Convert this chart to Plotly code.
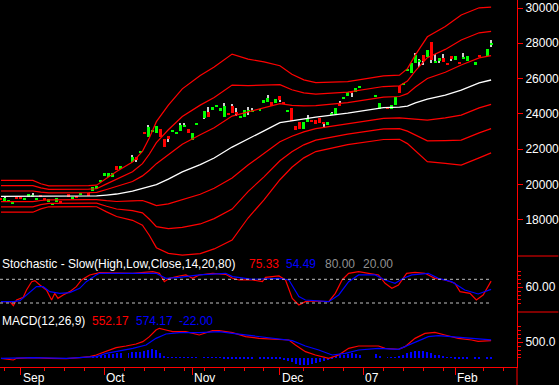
import plotly.graph_objects as go

# ---------------- data ----------------
# trading-day index (weekdays, Aug 25 2006 = 0 ... Feb 14 2007 = 123)
cndl_idx = [0,1,2,3,4,5,6,7,8,9,10,11,12,13,14,15,17,18,19,20,22,23,24,25,26,27,28,29,30,
            33,34,35,36,37,38,39,40,41,42,43,44,45,46,47,48,49,51,52,53,54,55,56,57,58,59,
            60,61,62,63,65,66,67,68,69,70,71,72,73,74,75,76,77,78,79,80,81,82,83,84,85,86,
            87,88,89,90,94,95,97,98,99,100,101,102,103,104,105,106,107,108,109,110,111,112,
            113,114,115,116,117,119,120,122,123]
cndl_open = [19250,19080,19060,18890,19300,19300,19120,19310,19310,19120,19400,19250,19030,18840,
             19030,19080,19460,19160,19350,19460,19500,19650,19760,20160,20480,20410,20440,21050,
             20890,21290,21540,21810,22970,22670,22970,22930,23130,22560,22750,22990,22860,23050,
             23240,23140,22520,23400,23750,24120,24220,24370,24180,23810,24070,24450,24120,23750,
             23840,24160,24120,24180,24630,24690,24690,24630,25010,24690,24120,24320,23310,23520,
             23160,23520,23650,23650,23750,23560,23370,23920,23990,24600,24850,25010,25310,25260,
             25490,24990,24260,24410,24260,24500,25580,25690,26470,26300,26870,26990,27340,27240,
             28060,26900,27050,27150,26870,27280,27050,26960,27150,27010,26770,27300,27280,27920]
cndl_close = [19120,19220,19120,19030,19180,19180,19250,19460,19400,19250,19270,19120,19180,18970,
              19220,18990,19270,19310,19230,19540,19400,19880,19910,20260,20630,20630,20670,20820,
              21050,21540,21390,21870,22900,23270,23090,23310,22710,22110,22560,23050,22990,23370,
              23370,22930,22930,23460,24160,23840,24370,24500,24320,24450,23940,24070,23990,23880,
              24220,24170,24220,24260,24790,24880,24460,24830,24790,24600,24180,23610,23090,23130,
              23560,23750,23560,23410,23500,23430,23560,24070,24350,24450,24910,25260,25200,25450,
              25540,25040,24630,24260,24500,24970,25200,25770,26520,26870,27340,27000,27010,27620,
              27050,26960,27150,26960,26770,27130,27280,26870,27160,27280,26960,27250,27660,27980]
cndl_high = [19250,19310,19120,19030,19300,19300,19250,19460,19520,19250,19400,19250,19180,18970,
             19220,19080,19460,19310,19350,19540,19500,19880,19910,20260,20630,20630,20670,21050,
             21050,21670,21540,21870,22970,23370,23090,23310,23130,22560,22750,23050,22990,23500,
             23500,23140,22930,23460,24160,24370,24370,24500,24320,24600,24070,24560,24330,23880,
             24220,24390,24330,24260,24790,25070,24690,24830,25010,24690,24180,24320,23310,23520,
             23560,23940,23650,23650,23750,23560,23560,24120,24350,24730,24910,25260,25310,25450,
             25540,25040,24630,24410,24500,24970,25580,25770,26520,26870,27430,27110,27340,27620,
             28060,27390,27150,27390,26870,27280,27280,26960,27450,27280,26960,27300,27660,28190]
cndl_low = [19120,19080,19060,18890,19180,19180,19120,19310,19310,19120,19270,19120,19030,18840,
            19030,18990,19270,19160,19230,19460,19400,19650,19760,20160,20480,20410,20440,20820,
            20890,21290,21290,21810,22900,22670,22970,22930,22710,22110,22420,22990,22860,23050,
            23240,22930,22520,23400,23690,23840,24220,24370,24180,23810,23940,24070,23880,23750,
            23840,23940,24120,24180,24630,24690,24460,24630,24690,24600,24120,23610,23090,23130,
            23160,23520,23560,23410,23500,23180,23370,23920,23990,24450,24850,25010,24970,25260,
            25490,24990,24260,24260,24260,24500,25200,25690,26470,26300,26870,26660,26770,27240,
            26870,26870,26870,26960,26770,26980,27050,26870,27150,27010,26770,27250,27280,27810]

# moving average (white) and band width (one sigma)
band_idx = [0,8,10,12,22,24,26.5,29,33,35.5,37.25,39,42,45.5,50,53.5,58,62,66,70,73,76,79,87,96,
            100,102,104,107,111.5,115.5,120,123]
ma_vals = [19330,19330,19330,19330,19340,19350,19400,19460,19620,19790,19880,19990,20300,20710,
           21130,21500,22120,22600,23040,23500,23610,23720,23820,24040,24350,24380,24440,24620,
           24830,25070,25350,25760,25920]
sigma_vals = [300,300,238,198,198,204,317,425,550,697,924,1190,1400,1570,1683,1717,1756,1500,1303,
              1077,878,737,652,595,600,606,708,907,1179,1292,1417,1417,1377]

# stochastic slow
stk_idx = [0,2.25,3.1,3.9,5.6,6.4,7.7,8.5,9.75,11.4,12.7,13.5,14.3,15.6,17.25,18.9,20.2,22.25,24.75,
           28.9,33.1,38.1,39.75,41,42.25,44.75,46.4,48.1,49.75,53.1,56.4,58.1,59.75,63.1,65.6,66.4,
           69.75,71.4,73.1,74.75,76.4,78.1,82.25,83.9,85.6,87.25,89.75,92.25,94.75,96.4,98.1,99.75,
           101.8,103.9,106.4,108.9,111.4,113.9,115.2,117.7,119.3,121,123]
stk_k = [23.4,23.4,13.2,27.6,34.4,53,74,76.6,65.6,53,27.6,44.5,31.8,40.3,48.7,61.4,78.3,91,96.9,
         96.9,95.2,99.4,95.2,74,82.5,88.4,91,82.5,91,95.2,92.7,82.5,78.3,78.3,74,85,88.4,78.3,31.8,
         14.9,23.4,25.1,23.4,44.5,78.3,95.2,99.4,95.2,91,69.9,57.2,65.6,95.2,97.7,95.2,82.5,78.3,
         69.9,48.7,44.5,27.6,40.3,75.33]
std_idx = [0,3.1,4.75,6.4,8.9,10.6,12.25,14.75,17.25,19.75,21.4,23.9,24.75,38.9,41.4,44.75,49.75,
           56.4,58.1,63.1,69.75,72.25,74.75,76.4,78.9,82.25,84.75,87.25,89.75,93.9,96.4,98.9,101,
           103.1,107.25,109.75,113.1,116.4,119.75,123]
std_d = [23.4,23.4,25.9,40.3,61.4,61.4,48.7,44.5,46.2,57.2,74,91,95.2,95.2,82.5,85,91,95.2,86.8,80,
         82.5,78.3,36.1,27.6,25.1,23.4,40.3,74,91,91,78.3,69.9,82.5,91,95.2,82.5,74,53,42.8,54.49]

# MACD
macd_idx = [0,2.25,3.1,3.9,8.1,12.25,16.4,19.75,22.25,23.9,26.4,28.9,31.4,33.9,35.6,37.25,38.9,
            39.75,41.4,43.1,46.4,49.75,53.1,54.75,58.1,61.4,64.75,69.75,72.25,73.9,76.4,78.9,82.25,
            84.75,87.25,89.75,94.75,96.4,99.75,101.4,103.9,106.4,108.9,111.4,114.75,118.1,119.75,123]
macd_vals = [-10,-32,-64,-10,11,-10,-21,11,42,96,223,329,382,446,520,679,892,945,892,839,839,733,
             871,871,807,679,626,594,573,414,202,96,-10,96,308,382,382,308,276,361,626,785,817,733,
             626,573,530,552.17]
sig_idx = [0,8.1,16.4,21.4,23.9,26.4,29.75,33.1,36.4,38.9,41.4,44.75,49.75,54.75,58.1,61.4,66.4,
           69.75,73.1,76.4,79.75,83.1,86.4,89.75,94.75,99.75,103.1,107.25,109.75,114.75,119.75,123]
sig_vals = [-10,11,-10,11,42,149,223,308,414,626,764,807,807,839,785,733,658,610,552,382,255,96,149,
            255,308,276,467,679,711,658,594,574.17]
hist_idx = [23,24,25,26,27,28,29,30,32,33,34,35,36,37,38,39,40,41,42,43,44,45,46,47,48,49,51,52,53,
            54,55,56,57,58,59,60,61,62,63,65,66,67,68,69,70,71,72,73,74,75,76,77,78,79,80,81,82,83,
            84,85,86,87,88,89,90,94,95,97,98,99,100,101,102,103,104,105,106,107,108,109,110,111,112,
            113,114,115,116,117,119,120,122,123]
hist_vals = [40,70,85,95,115,125,150,160,175,185,195,205,220,250,285,270,150,70,20,15,15,15,15,10,
             10,10,12,12,15,15,12,-20,-25,-30,-35,-40,-40,-35,-30,-30,-30,-25,-25,-30,-40,-70,-100,
             -140,-180,-210,-230,-220,-200,-170,-140,-110,-70,-30,40,80,110,140,155,130,90,120,60,15,
             15,20,60,100,150,190,230,230,210,180,150,110,80,50,25,15,-15,-20,-25,-25,-25,-22,-20,-22]

month_ticks = [5, 26, 48, 70, 91, 114]
month_labels = ["Sep", "Oct", "Nov", "Dec", "07", "Feb"]
week_ticks = [1, 11, 16, 21, 31, 36, 41, 46, 51, 56, 61, 66, 76, 81, 86, 96, 101, 106, 111, 121, 126]
price_ticks = [18000, 20000, 22000, 24000, 26000, 28000, 30000]
price_labels = ["18000", "20000", "22000", "24000", "26000", "28000", "30000"]

# ---------------- figure ----------------
RED = "#ff0000"
GREEN = "#00ff00"
BLUE = "#0000ff"
FONT = "Liberation Sans"

fig = go.Figure()

# Bollinger style bands
for k in (3, 2, 1, -1, -2, -3):
    fig.add_trace(go.Scatter(x=band_idx, y=[m + k * s for m, s in zip(ma_vals, sigma_vals)],
                             mode="lines", line=dict(color=RED, width=1.2),
                             xaxis="x", yaxis="y", hoverinfo="skip", showlegend=False))
fig.add_trace(go.Scatter(x=band_idx, y=ma_vals, mode="lines", line=dict(color="#ffffff", width=1.3),
                         xaxis="x", yaxis="y", hoverinfo="skip", showlegend=False))

# candle wicks (thin bars) then bodies
fig.add_trace(go.Bar(x=cndl_idx, y=[h - l for h, l in zip(cndl_high, cndl_low)], base=cndl_low,
                     width=0.26, marker=dict(color="#d0d0d0", line=dict(width=0)),
                     xaxis="x", yaxis="y", hoverinfo="skip", showlegend=False))
base = [min(o, c) for o, c in zip(cndl_open, cndl_close)]
height = [max(abs(c - o), 55) for o, c in zip(cndl_open, cndl_close)]
colors = [GREEN if c >= o else RED for o, c in zip(cndl_open, cndl_close)]
fig.add_trace(go.Bar(x=cndl_idx, y=height, base=base, width=0.75, marker=dict(color=colors, line=dict(width=0)),
                     xaxis="x", yaxis="y", hoverinfo="skip", showlegend=False))

# stochastic
fig.add_trace(go.Scatter(x=stk_idx, y=stk_k, mode="lines", line=dict(color=RED, width=1.2),
                         xaxis="x", yaxis="y2", showlegend=False))
fig.add_trace(go.Scatter(x=std_idx, y=std_d, mode="lines", line=dict(color=BLUE, width=1.2),
                         xaxis="x", yaxis="y2", showlegend=False))

# MACD
fig.add_trace(go.Bar(x=hist_idx, y=hist_vals, width=0.25, marker=dict(color=BLUE, line=dict(width=0)),
                     xaxis="x", yaxis="y3", showlegend=False))
fig.add_trace(go.Scatter(x=macd_idx, y=macd_vals, mode="lines", line=dict(color=RED, width=1.2),
                         xaxis="x", yaxis="y3", showlegend=False))
fig.add_trace(go.Scatter(x=sig_idx, y=sig_vals, mode="lines", line=dict(color=BLUE, width=1.2),
                         xaxis="x", yaxis="y3", showlegend=False))

PLOT_H = 367.0
d_main = (PLOT_H - 256) / PLOT_H
d_stoch = (PLOT_H - 312) / PLOT_H

axis_common = dict(showgrid=False, zeroline=False, showline=True, linecolor=RED, linewidth=1,
                   ticks="outside", tickcolor=RED, tickwidth=1, side="right", anchor="x",
                   tickfont=dict(family=FONT, size=12, color="#ffffff"))

fig.update_layout(
    width=559, height=385,
    margin=dict(l=0, r=40, t=0, b=18),
    paper_bgcolor="#000000", plot_bgcolor="#000000",
    barmode="overlay", bargap=0,
    showlegend=False,
    xaxis=dict(range=[-0.25, 129.5], domain=[0, 1], anchor="y3", showgrid=False, zeroline=False,
               showline=True, linecolor=RED, linewidth=1, ticks="outside", tickcolor=RED,
               ticklen=7, tickmode="array", tickvals=month_ticks, showticklabels=False,
               minor=dict(tickmode="array", tickvals=week_ticks, ticklen=3, tickcolor=RED, ticks="outside")),
    yaxis=dict(domain=[d_main, 1], range=[15948, 30453], tickmode="array", tickvals=price_ticks,
               ticktext=price_labels, ticklen=5, **axis_common),
    yaxis2=dict(domain=[d_stoch, d_main], range=[-2.8, 139], tickmode="array", tickvals=[60],
                ticktext=["60.00"], ticklen=5,
                minor=dict(tickmode="array", tickvals=[20, 30, 40, 50, 70, 80, 90, 100],
                           ticklen=3, tickcolor=RED, ticks="outside"),
                **axis_common),
    yaxis3=dict(domain=[0, d_stoch], range=[-287, 1465], tickmode="array", tickvals=[500],
                ticktext=["500.0"], ticklen=5,
                minor=dict(tickmode="array", tickvals=[0, 125, 250, 375, 625, 750, 875, 1000],
                           ticklen=3, tickcolor=RED, ticks="outside"),
                **axis_common),
)

shapes = [
    dict(type="line", xref="paper", yref="paper", x0=1, x1=1.08, y0=d_main, y1=d_main,
         line=dict(color=RED, width=1)),
    dict(type="line", xref="paper", yref="paper", x0=1, x1=1.08, y0=d_stoch, y1=d_stoch,
         line=dict(color=RED, width=1)),
    dict(type="line", xref="paper", yref="paper", x0=1, x1=1, y0=0, y1=-0.06,
         line=dict(color=RED, width=1)),
    dict(type="line", xref="x", yref="y2", x0=-0.25, x1=123, y0=80, y1=80,
         line=dict(color="#c0c0c0", width=1, dash="dot")),
    dict(type="line", xref="x", yref="y2", x0=-0.25, x1=123, y0=20, y1=20,
         line=dict(color="#c0c0c0", width=1, dash="dot")),
]
fig.update_layout(shapes=shapes)

def txt(x, y, s, color, xref="paper"):
    return dict(x=x, y=y, xref=xref, yref="paper", text=s, showarrow=False, xanchor="left",
                yanchor="middle", font=dict(family=FONT, size=12, color=color), borderpad=0)

ann = []
y_st = (PLOT_H - 264) / PLOT_H
y_md = (PLOT_H - 321) / PLOT_H
ann.append(txt(1 / 519, y_st, "Stochastic - Slow(High,Low,Close,14,20,80)", "#ffffff"))
ann.append(txt(249 / 519, y_st, "75.33", RED))
ann.append(txt(286 / 519, y_st, "54.49", BLUE))
ann.append(txt(325 / 519, y_st, "80.00", "#909090"))
ann.append(txt(363 / 519, y_st, "20.00", "#909090"))
ann.append(txt(1 / 519, y_md, "MACD(12,26,9)", "#ffffff"))
ann.append(txt(91 / 519, y_md, "552.17", RED))
ann.append(txt(136 / 519, y_md, "574.17", BLUE))
ann.append(txt(179 / 519, y_md, "-22.00", BLUE))
y_lab = (PLOT_H - 378) / PLOT_H
for t, lab in zip(month_ticks, month_labels):
    ann.append(txt(t + 0.2, y_lab, lab, "#ffffff", xref="x"))
fig.update_layout(annotations=ann)

fig.write_html("out.html", config={"displayModeBar": False},
               post_script="document.body.style.margin='0px';document.body.style.overflow='hidden';")
